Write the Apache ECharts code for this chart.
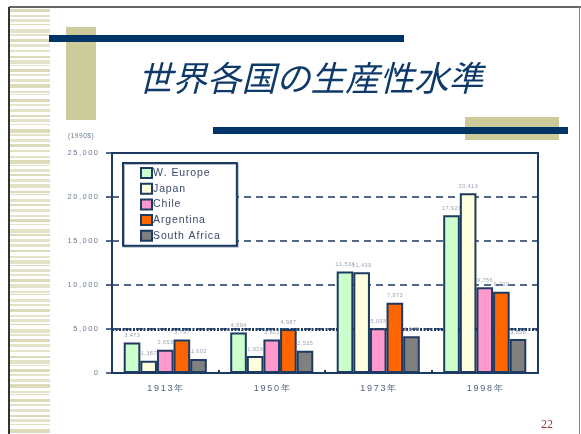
<!DOCTYPE html>
<html><head><meta charset="utf-8">
<script src="https://cdn.jsdelivr.net/npm/echarts@6/dist/echarts.min.js"></script>
<style>html,body{margin:0;padding:0;background:#fff}#c{width:581px;height:434px}</style>
</head><body><div id="c"></div>
<script>
const categories = ['1913年', '1950年', '1973年', '1998年'];
const seriesNames = ['W. Europe', 'Japan', 'Chile', 'Argentina', 'South Africa'];
const wEurope = [3473, 4594, 11534, 17921];
const japan = [1387, 1926, 11439, 20413];
const chile = [2653, 3821, 5093, 9756];
const argentina = [3797, 4987, 7973, 9219];
const southAfrica = [1602, 2535, 4175, 3858];
const seriesColors = ['#ccffcc', '#ffffdd', '#ff99cc', '#ff6600', '#808080'];
const titleText = '世界各国の生産性水準';
const unitText = '(1990$)';
const pageNo = '22';

const values = [wEurope, japan, chile, argentina, southAfrica];
const NAVY = '#1c3a62';
const spaced = (s, sp) => String(s).split('').join(sp);
const fmt = v => v.toLocaleString('en-US');

const chart = echarts.init(document.getElementById('c'), null, {renderer: 'canvas'});

// decorative stripes on the left
const stripes = [];
const pattern = [3,2,3,1,4,2,3,3,2,2,4,1,3,2,3,4,2,1,3,2];
let y = 9, k = 0;
while (y < 434) {
  const h = pattern[k % pattern.length];
  const g = pattern[(k + 7) % pattern.length];
  stripes.push({type: 'rect', silent: true, shape: {x: 10, y: y, width: 40, height: h},
    style: {fill: k % 3 === 0 ? '#dcdab8' : '#e4e2c6'}});
  y += h + g; k++;
}

const series = seriesNames.map((n, i) => ({
  name: n, type: 'bar', data: values[i], z: 3,
  barGap: '0%', barCategoryGap: '22%',
  itemStyle: {color: seriesColors[i], borderColor: NAVY, borderWidth: 2},
  label: {show: true, position: 'top', distance: 4, fontSize: 5.5, color: '#98a2b4',
    fontFamily: 'Liberation Sans', formatter: p => spaced(fmt(p.value), '\u200a')}
}));
series.push({
  name: '__ref', type: 'line', data: [], z: 1, silent: true,
  markLine: {silent: true, symbol: 'none', z: 1, label: {show: false},
    lineStyle: {color: NAVY, width: 3, type: [2, 1.5]},
    data: [{yAxis: 5000}]}
});

chart.setOption({
  animation: false,
  backgroundColor: '#fff',
  textStyle: {fontFamily: 'Liberation Sans'},
  grid: {left: 112, top: 153, width: 426, height: 220, show: true,
    borderColor: NAVY, borderWidth: 2, backgroundColor: 'transparent', z: 4},
  legend: {
    data: seriesNames, orient: 'vertical', left: 123, top: 163,
    itemWidth: 11, itemHeight: 10, itemGap: 3.7, icon: 'rect',
    padding: [4, 17, 4, 17], borderColor: NAVY, borderWidth: 2,
    backgroundColor: '#fff', shadowColor: 'rgba(40,70,110,0.35)', shadowBlur: 0,
    shadowOffsetX: 1, shadowOffsetY: 1,
    textStyle: {fontSize: 10.5, color: '#3a4a6a', fontFamily: 'Liberation Sans', padding: [0, 0, 0, -4]},
    formatter: n => spaced(n, '\u200a')
  },
  xAxis: {
    type: 'category', data: categories,
    axisLine: {lineStyle: {color: NAVY, width: 2}},
    axisTick: {show: true, inside: true, length: 3, lineStyle: {color: NAVY, width: 2}},
    axisLabel: {margin: 11, fontSize: 9, color: '#52627f', formatter: v => spaced(v, '\u2009')}
  },
  yAxis: {
    type: 'value', min: 0, max: 25000, interval: 5000,
    axisLine: {show: true, lineStyle: {color: NAVY, width: 2}},
    axisTick: {show: true, length: 6, lineStyle: {color: NAVY, width: 1.5}},
    axisLabel: {margin: 14, fontSize: 7.5, color: '#6a7892', formatter: v => spaced(fmt(v), '\u2009')},
    splitLine: {show: true, lineStyle: {color: NAVY, width: 1.5, type: [7, 5]}}
  },
  series: series,
  graphic: stripes.concat([
    {type: 'line', silent: true, shape: {x1: 9, y1: 7, x2: 581, y2: 7}, style: {stroke: '#333', lineWidth: 1.5}},
    {type: 'line', silent: true, shape: {x1: 9, y1: 7, x2: 9, y2: 434}, style: {stroke: '#333', lineWidth: 2}},
    {type: 'line', silent: true, shape: {x1: 579.5, y1: 7, x2: 579.5, y2: 434}, style: {stroke: '#8a8a8a', lineWidth: 1}},
    {type: 'rect', silent: true, shape: {x: 66, y: 27, width: 30, height: 93}, style: {fill: '#cccb99'}},
    {type: 'rect', silent: true, shape: {x: 49, y: 35, width: 355, height: 7}, style: {fill: '#003366'}},
    {type: 'rect', silent: true, shape: {x: 465, y: 117, width: 94, height: 23}, style: {fill: '#cccb99'}},
    {type: 'rect', silent: true, shape: {x: 213, y: 127, width: 355, height: 7}, style: {fill: '#003366'}},
    {type: 'text', silent: true, left: 138, top: 61, style: {text: titleText, fill: '#0e3a6a',
      font: 'italic 34.5px "Noto Sans CJK JP"'}},
    {type: 'text', silent: true, left: 68, top: 133, style: {text: spaced(unitText, '\u200a'), fill: '#6a7892',
      font: '6.5px "Liberation Sans"'}},
    {type: 'text', silent: true, left: 541, top: 419, style: {text: pageNo, fill: '#993333',
      font: '12px "Liberation Serif"'}}
  ])
});
</script></body></html>
